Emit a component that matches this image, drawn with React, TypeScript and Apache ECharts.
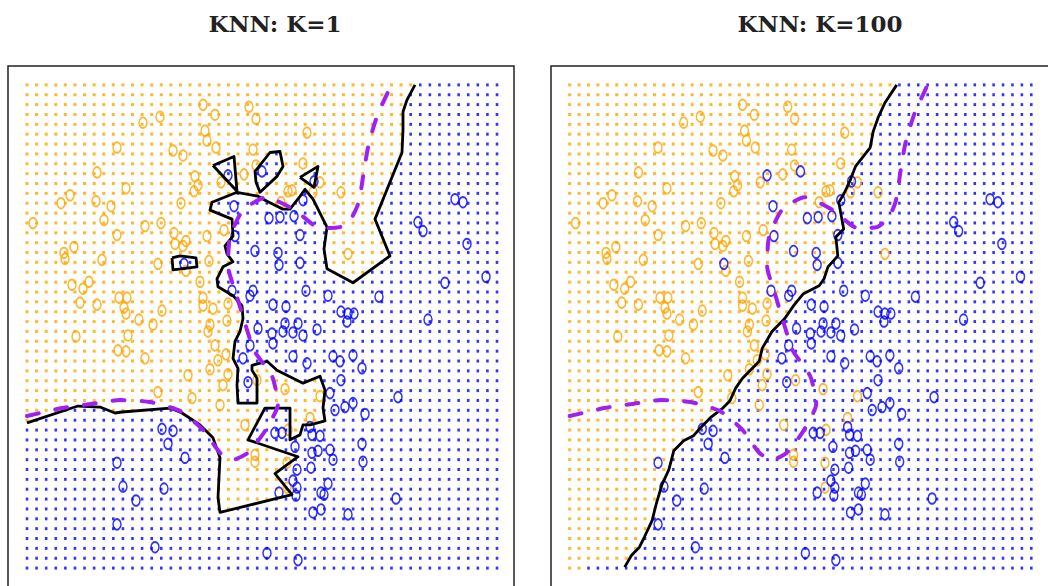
import React, { useEffect, useRef } from "react";
import * as echarts from "echarts";

// ---- data (X1 horizontal, X2 vertical, in the plot's own units) ----
const AXIS_X: [number, number] = [8, 514];
const AXIS_Y: [number, number] = [66, 589];
const GRID_COLS = 50;
const GRID_ROWS = 50;
const GRID_X: [number, number] = [27, 497];
const GRID_Y: [number, number] = [85, 571];

const TITLES = ["KNN: K=1", "KNN: K=100"];

const ORANGE_POINTS: number[][] = [
  [203,105],[215,115],[249,107],[256,119],[160,117],[143,123],[205,131],[207,141],[216,148],[117,148],
  [173,151],[183,156],[253,150],[97,173],[195,177],[198,186],[194,192],[126,189],[244,175],[221,183],
  [256,166],[70,196],[61,204],[96,202],[111,207],[181,204],[33,224],[104,221],[145,227],[161,224],
  [117,236],[174,234],[224,231],[207,237],[175,245],[183,247],[186,242],[74,248],[64,254],[65,260],
  [102,261],[158,265],[186,272],[209,262],[89,283],[72,286],[83,290],[200,283],[119,299],[127,299],
  [80,304],[97,306],[124,309],[126,315],[162,312],[203,299],[203,307],[213,310],[228,305],[139,321],
  [307,133],[303,164],[320,183],[288,192],[292,191],[281,203],[313,193],[341,193],[348,255],[227,322],
  [210,326],[208,333],[153,326],[76,338],[128,337],[118,352],[126,353],[145,360],[215,347],[226,356],
  [218,362],[210,371],[228,376],[188,377],[223,387],[158,394],[192,400],[220,407],[245,427],[255,457],
  [255,464],[257,382],[285,391],[320,398],[310,420],[287,465],[287,490],[288,432]
];

const BLUE_POINTS: number[][] = [
  [228,176],[262,172],[314,182],[234,207],[303,201],[269,219],[280,218],[294,217],[235,237],[300,236],
  [255,252],[278,254],[279,266],[300,264],[184,265],[232,292],[253,292],[250,297],[306,292],[328,297],
  [273,306],[286,308],[341,313],[348,315],[354,315],[347,323],[428,321],[455,200],[463,203],[418,223],
  [423,232],[467,245],[445,284],[486,278],[379,298],[258,330],[285,325],[298,325],[317,331],[272,335],
  [283,333],[293,334],[303,337],[250,347],[273,345],[243,360],[293,358],[307,365],[333,358],[340,363],
  [353,357],[362,370],[248,384],[341,382],[330,395],[398,399],[335,412],[345,409],[353,405],[365,416],
  [310,429],[312,437],[320,438],[275,435],[282,435],[173,433],[162,431],[168,446],[185,460],[295,449],
  [312,455],[318,453],[330,452],[333,462],[362,446],[363,464],[297,472],[311,470],[293,483],[297,490],
  [296,498],[279,495],[328,486],[321,495],[324,497],[396,501],[313,515],[321,512],[348,517],[267,556],
  [298,563],[117,465],[123,489],[164,491],[136,503],[117,527],[155,550]
];

// KNN K=1 decision boundary (main curve, from top edge to left edge)
const K1_BOUNDARY: number[][] = [
  [415,85],[407,100],[403,112],[403,130],[402,153],[375,220],[390,257],[353,284],[327,270],[324,250],
  [327,228],[323,220],[313,200],[305,190],[300,197],[290,210],[283,210],[267,202],[258,197],[237,193],
  [212,203],[210,211],[232,220],[233,237],[225,247],[227,255],[233,263],[223,268],[217,280],[218,288],
  [233,297],[242,307],[243,320],[240,333],[235,343],[233,360],[238,370],[237,387],[238,405],[257,405],
  [257,380],[252,372],[252,367],[267,363],[277,372],[303,385],[320,378],[325,392],[323,410],[325,423],
  [310,427],[303,427],[300,437],[290,442],[290,410],[265,410],[248,442],[298,459],[275,476],[292,497],
  [220,515],[218,500],[220,460],[213,440],[200,427],[182,415],[170,410],[122,414],[115,415],[100,409],
  [78,408],[27,425]
];
// K=1 closed islands (blue cells inside the orange region)
const K1_ISLAND_A: number[][] = [[213,166],[234,157],[237,192],[213,166]];
const K1_ISLAND_B: number[][] = [[256,183],[255,172],[270,153],[280,152],[283,167],[277,177],[260,193],[256,183]];
const K1_ISLAND_C: number[][] = [[300,178],[318,167],[314,188],[300,178]];
const K1_ISLAND_D: number[][] = [[172,259],[173,271],[197,268],[196,259],[180,257],[172,259]];

// KNN K=100 decision boundary
const K100_BOUNDARY: number[][] = [
  [360,85],[348,103],[341,118],[336,132],[333,148],[318,167],[313,180],[306,195],[301,203],[306,230],
  [298,238],[300,257],[290,268],[286,280],[281,287],[265,295],[255,307],[246,320],[233,333],[223,350],
  [220,363],[210,373],[203,380],[196,390],[190,403],[183,410],[170,420],[160,430],[153,438],[143,443],
  [133,453],[128,472],[121,487],[115,507],[111,523],[103,540],[98,550],[90,558],[83,570]
];

// Bayes decision boundary
const BAYES_BOUNDARY: number[][] = [
  [27,418],[45,414],[62,410],[90,406],[120,402],[150,404],[180,413],[203,432],[220,455],[233,462],
  [248,455],[265,433],[278,406],[272,378],[254,352],[246,328],[236,295],[228,267],[230,238],[243,211],
  [266,198],[295,211],[320,229],[340,228],[352,218],[359,202],[364,171],[369,143],[378,114],[390,88]
];

const ORANGE = "#FFA500";
const BLUE = "#0000FF";

function inPoly(x: number, y: number, poly: number[][]): boolean {
  let inside = false;
  for (let i = 0, j = poly.length - 1; i < poly.length; j = i++) {
    const xi = poly[i][0], yi = poly[i][1], xj = poly[j][0], yj = poly[j][1];
    if (yi > y !== yj > y && x < ((xj - xi) * (y - yi)) / (yj - yi) + xi) inside = !inside;
  }
  return inside;
}

function closeRight(path: number[][]): number[][] {
  const first = path[0];
  const last = path[path.length - 1];
  return [...path, [last[0] - 40, last[1]], [last[0] - 40, 1000], [1000, 1000], [1000, -100], [first[0], -100]];
}

export default function App() {
  const ref = useRef<HTMLDivElement>(null);
  useEffect(() => {
    document.body.style.margin = "0";
    const chart = echarts.init(ref.current!, null, { renderer: "svg" });

    const xs: number[] = [];
    const ys: number[] = [];
    for (let i = 0; i < GRID_COLS; i++) xs.push(GRID_X[0] + ((GRID_X[1] - GRID_X[0]) * i) / (GRID_COLS - 1));
    for (let j = 0; j < GRID_ROWS; j++) ys.push(GRID_Y[0] + ((GRID_Y[1] - GRID_Y[0]) * j) / (GRID_ROWS - 1));

    const k1Blue = closeRight(K1_BOUNDARY);
    const k1Islands = [K1_ISLAND_A, K1_ISLAND_B, K1_ISLAND_C, K1_ISLAND_D];
    const k100Blue = closeRight(K100_BOUNDARY);

    const classify = [
      (x: number, y: number) => inPoly(x, y, k1Blue) || k1Islands.some((p) => inPoly(x, y, p)),
      (x: number, y: number) => inPoly(x, y, k100Blue),
    ];
    const boundaries = [[K1_BOUNDARY, ...k1Islands], [K100_BOUNDARY]];

    const series: any[] = [];
    for (let p = 0; p < 2; p++) {
      const od: number[][] = [];
      const bd: number[][] = [];
      for (const y of ys) for (const x of xs) (classify[p](x, y) ? bd : od).push([x, y]);
      const common = { xAxisIndex: p, yAxisIndex: p, silent: true };
      series.push({ ...common, type: "scatter", data: od, symbol: "rect", symbolSize: 3, itemStyle: { color: ORANGE }, z: 1 });
      series.push({ ...common, type: "scatter", data: bd, symbol: "rect", symbolSize: [2.6, 3], itemStyle: { color: BLUE }, z: 1 });
      series.push({ ...common, type: "scatter", data: ORANGE_POINTS, symbol: "circle", symbolSize: [8, 10.5],
        itemStyle: { color: "rgba(0,0,0,0)", borderColor: ORANGE, borderWidth: 1.7 }, z: 2 });
      series.push({ ...common, type: "scatter", data: BLUE_POINTS, symbol: "circle", symbolSize: [8, 10.5],
        itemStyle: { color: "rgba(0,0,0,0)", borderColor: BLUE, borderWidth: 1.7 }, z: 2 });
      for (const b of boundaries[p]) {
        series.push({ ...common, type: "line", data: b, showSymbol: false, symbol: "none",
          lineStyle: { color: "#000", width: 2.8, join: "round" }, z: 3 });
      }
      series.push({ ...common, type: "line", data: BAYES_BOUNDARY, showSymbol: false, symbol: "none", smooth: 0.2,
        lineStyle: { color: "#A020F0", width: 4, type: [12, 17], cap: "round" }, z: 4 });
    }

    const axisCommon = { show: false, splitLine: { show: false } };
    const frame = (x: number, w: number) => ({ type: "rect", shape: { x, y: 66, width: w, height: 600 }, style: { fill: "none", stroke: "#222", lineWidth: 1.5 }, silent: true, z: 10 });
    chart.setOption({
      animation: false,
      backgroundColor: "#fff",
      grid: [
        { left: 8, top: 66, width: 506, height: 523, show: false },
        { left: 551, top: 66, width: 506, height: 523, show: false },
      ],
      xAxis: [
        { ...axisCommon, type: "value", gridIndex: 0, min: AXIS_X[0], max: AXIS_X[1] },
        { ...axisCommon, type: "value", gridIndex: 1, min: AXIS_X[0], max: AXIS_X[1] },
      ],
      yAxis: [
        { ...axisCommon, type: "value", gridIndex: 0, min: AXIS_Y[0], max: AXIS_Y[1], inverse: true },
        { ...axisCommon, type: "value", gridIndex: 1, min: AXIS_Y[0], max: AXIS_Y[1], inverse: true },
      ],
      graphic: [
        frame(8, 506),
        frame(551, 700),
        { type: "text", x: 275, y: 23, style: { text: TITLES[0], font: "bold 23px 'DejaVu Serif'", fill: "#222", align: "center", verticalAlign: "middle" } },
        { type: "text", x: 820, y: 23, style: { text: TITLES[1], font: "bold 23px 'DejaVu Serif'", fill: "#222", align: "center", verticalAlign: "middle" } },
      ],
      series,
    });
    return () => chart.dispose();
  }, []);
  return <div ref={ref} style={{ position: "fixed", left: 0, top: 0, width: 1048, height: 586, background: "#fff" }} />;
}
